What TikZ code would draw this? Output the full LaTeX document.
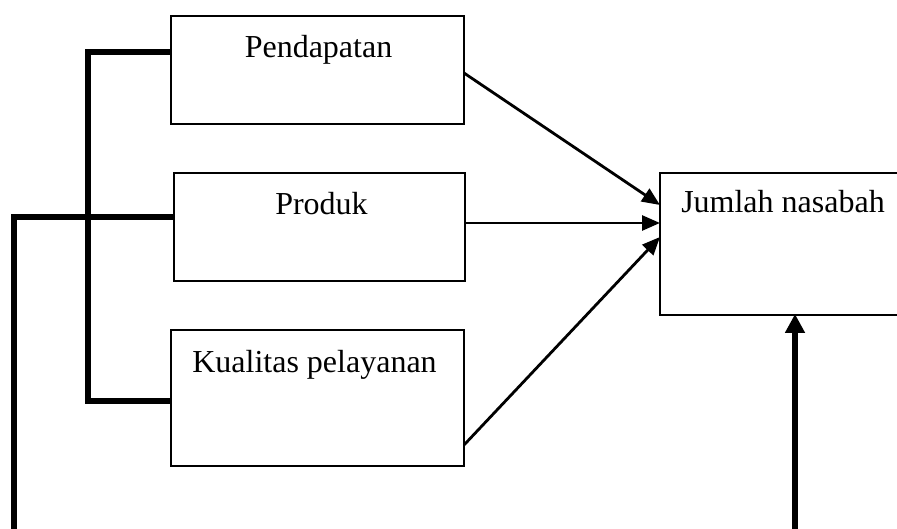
\documentclass[tikz,border=0pt]{standalone}
\usepackage{fontspec}
\setmainfont{Liberation Serif}
\usetikzlibrary{arrows.meta}
\begin{document}
\begin{tikzpicture}[x=1pt,y=-1pt,
  box/.style={draw,line width=2pt,rectangle,inner sep=0pt},
  lbl/.style={anchor=base,inner sep=0pt,font=\fontsize{32}{38}\selectfont},
  thin/.style={line width=2.8pt,-{Triangle[length=18pt,width=15pt]}},
  thick/.style={line width=5.5pt}]
\useasboundingbox (0,0) rectangle (897,529);
\node[box,minimum width=293pt,minimum height=108pt] (p) at (317.5,70) {};
\node[box,minimum width=291pt,minimum height=108pt] (r) at (319.5,227) {};
\node[box,minimum width=293pt,minimum height=136pt] (k) at (317.5,398) {};
\node[box,minimum width=239pt,minimum height=142pt] (j) at (779.5,244) {};
\node[lbl] (tp) at (318.5,58) {Pendapatan};
\node[lbl] (tr) at (321.5,215) {Produk};
\node[lbl] (tk) at (314.5,372) {Kualitas pelayanan};
\node[lbl] (tj) at (783,213) {Jumlah nasabah};
\coordinate (b1) at (88,52);
\coordinate (b2) at (88,401);
\coordinate (c1) at (14,217);
\coordinate (c2) at (14,540);
\coordinate (d1) at (795,540);
\coordinate (ap) at (464,73);
\coordinate (ar) at (465,223);
\coordinate (ak) at (464,445);
\coordinate (ej1) at (660,205);
\coordinate (ej2) at (660,223);
\coordinate (ej3) at (660,237);
\draw[thick] (p.west |- b1) -- (b1) -- (b2) -- (k.west |- b2);
\draw[thick] (r.west |- c1) -- (c1) -- (c2);
\draw[thick,shorten >=-2pt,-{Triangle[length=19pt,width=19pt]}] (d1) -- (d1 |- j.south);
\draw[thin] (ap) -- (ej1);
\draw[thin] (ar) -- (ej2);
\draw[thin] (ak) -- (ej3);
\end{tikzpicture}
\end{document}
